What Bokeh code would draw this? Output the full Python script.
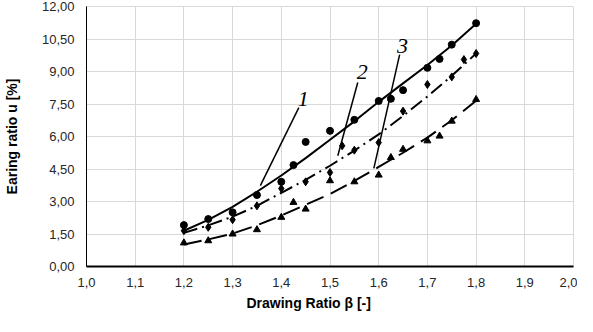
from bokeh.plotting import figure
from bokeh.models import Range1d, FixedTicker, ColumnDataSource, Title
from bokeh.core.properties import value
from bokeh.embed import file_html
from bokeh.resources import INLINE

# measured points
x_s1 = [1.2, 1.25, 1.3, 1.35, 1.4, 1.425, 1.45, 1.5, 1.55, 1.6, 1.625, 1.65, 1.7, 1.725, 1.75, 1.8]
y_s1 = [1.91, 2.19, 2.50, 3.30, 3.91, 4.68, 5.75, 6.26, 6.77, 7.64, 7.74, 8.14, 9.17, 9.58, 10.24, 11.23]

x_s2 = [1.2, 1.25, 1.3, 1.35, 1.4, 1.45, 1.5, 1.525, 1.55, 1.6, 1.65, 1.7, 1.75, 1.775, 1.8]
y_s2 = [1.65, 1.81, 2.16, 2.80, 3.60, 3.91, 4.34, 5.57, 5.37, 5.72, 7.17, 8.40, 8.75, 9.55, 9.83]

x_s3 = [1.2, 1.25, 1.3, 1.35, 1.4, 1.425, 1.45, 1.5, 1.55, 1.6, 1.625, 1.65, 1.7, 1.725, 1.75, 1.8]
y_s3 = [1.09, 1.19, 1.50, 1.70, 2.27, 2.96, 2.65, 3.96, 3.91, 4.22, 5.03, 5.41, 5.80, 6.02, 6.71, 7.71]

# trend curves
x_trend = [1.2, 1.25, 1.3, 1.35, 1.4, 1.45, 1.5, 1.55, 1.6, 1.65, 1.7, 1.75, 1.8]
trend1 = [1.65, 2.15, 2.75, 3.45, 4.2, 5.0, 5.85, 6.7, 7.6, 8.45, 9.3, 10.2, 11.2]
trend2 = [1.55, 1.9, 2.3, 2.8, 3.4, 4.0, 4.65, 5.35, 6.1, 6.95, 7.85, 8.8, 9.83]
trend3 = [1.02, 1.25, 1.52, 1.9, 2.35, 2.85, 3.35, 3.95, 4.6, 5.25, 5.95, 6.75, 7.65]

# curve labels with leader lines
lab_text = ["1", "2", "3"]
lab_x = [1.445, 1.566, 1.649]
lab_y = [7.75, 8.98, 10.19]
lead_x0 = [1.436, 1.557, 1.643]
lead_y0 = [7.33, 8.49, 9.78]
lead_x1 = [1.357, 1.516, 1.590]
lead_y1 = [3.73, 5.11, 4.53]

# ticks
x_ticks = [1.0, 1.1, 1.2, 1.3, 1.4, 1.5, 1.6, 1.7, 1.8, 1.9, 2.0]
x_tick_labels = ["1,0", "1,1", "1,2", "1,3", "1,4", "1,5", "1,6", "1,7", "1,8", "1,9", "2,0"]
y_ticks = [0, 1.5, 3, 4.5, 6, 7.5, 9, 10.5, 12]
y_tick_labels = ["0,00", "1,50", "3,00", "4,50", "6,00", "7,50", "9,00", "10,50", "12,00"]

x_title = "Drawing Ratio β [-]"
y_title = "Earing ratio u [%]"

p = figure(width=577, height=316, output_backend="svg", toolbar_location=None,
           x_range=Range1d(1.0, 2.0), y_range=Range1d(0, 12),
           min_border_left=81, min_border_right=4, min_border_top=6, min_border_bottom=50)
p.background_fill_color = "white"
p.border_fill_color = "white"
p.outline_line_color = "#d9d9d9"

p.xaxis.ticker = FixedTicker(ticks=x_ticks)
p.yaxis.ticker = FixedTicker(ticks=y_ticks)
p.xaxis.major_label_overrides = dict(zip(x_ticks, x_tick_labels))
p.yaxis.major_label_overrides = dict(zip(y_ticks, y_tick_labels))

for ax in (p.xaxis, p.yaxis):
    ax.major_tick_line_color = None
    ax.minor_tick_line_color = None
    ax.major_tick_out = 0
    ax.major_tick_in = 0
    ax.minor_tick_out = 0
    ax.minor_tick_in = 0
    ax.axis_line_color = "black"
    ax.major_label_text_font = "Liberation Sans"
    ax.major_label_text_font_size = "13px"
    ax.major_label_text_color = "#262626"
    ax.axis_label_text_font = "Liberation Sans"
    ax.axis_label_text_font_size = "14px"
    ax.axis_label_text_font_style = "bold"
    ax.axis_label_text_color = "black"
p.xaxis.axis_line_width = 2
p.yaxis.axis_line_width = 1
p.xaxis.major_label_standoff = 11
p.yaxis.major_label_standoff = 12
p.yaxis.axis_label = y_title
p.yaxis.axis_label_standoff = 19

p.add_layout(Title(text=x_title, align="left", offset=160, standoff=7,
                   text_font="Liberation Sans", text_font_size="14px",
                   text_font_style="bold", text_color="black"), "below")

p.grid.grid_line_color = "#d9d9d9"
p.grid.grid_line_width = 1

# trend lines
p.line(x_trend, trend1, line_color="black", line_width=2)
p.line(x_trend, trend2, line_color="black", line_width=2, line_dash="14 5 2 5")
p.line(x_trend, trend3, line_color="black", line_width=2, line_dash="18 8")

# markers
p.scatter(x_s1, y_s1, marker="circle", size=7, color="black")
p.scatter(x_s2, y_s2, marker="diamond", size=8, color="black")
p.scatter(x_s3, y_s3, marker="triangle", size=7, color="black")

# leaders and labels
p.segment(x0=lead_x0, y0=lead_y0, x1=lead_x1, y1=lead_y1, line_color="black", line_width=1.5)
src = ColumnDataSource(dict(x=lab_x, y=lab_y, t=lab_text))
p.text(x="x", y="y", text="t", source=src, text_font=value("Liberation Serif"),
       text_font_style="italic", text_font_size="22px", text_align="center",
       text_baseline="middle", text_color="black")

open("out.html", "w").write(file_html(p, INLINE))
